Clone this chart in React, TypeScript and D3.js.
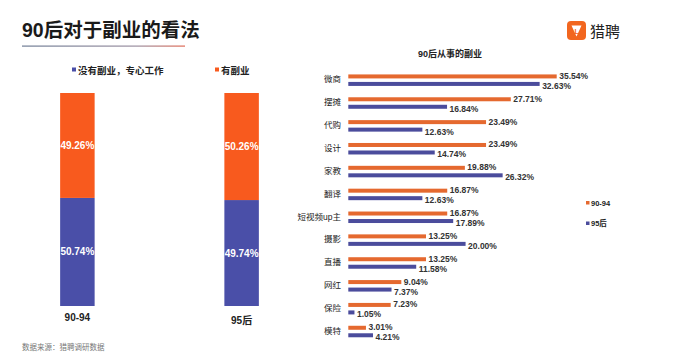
import React from "react";
import * as d3 from "d3";

const stackCats = ["90-94", "95后"];
const noSide = [50.74, 49.74];
const hasSide = [49.26, 50.26];
const stackLegend = ["没有副业，专心工作", "有副业"];

const jobs = ["微商", "摆摊", "代购", "设计", "家教", "翻译", "短视频up主", "摄影", "直播", "网红", "保险", "模特"];
const v9094 = [35.54, 27.71, 23.49, 23.49, 19.88, 16.87, 16.87, 13.25, 13.25, 9.04, 7.23, 3.01];
const v95 = [32.63, 16.84, 12.63, 14.74, 26.32, 12.63, 17.89, 20.0, 11.58, 7.37, 1.05, 4.21];
const seriesNames = ["90-94", "95后"];

const W = 682, H = 357;
const FONT = "'Liberation Sans', Arial, 'Noto Sans CJK SC', sans-serif";
const ORANGE_L = "#F85A1E";
const BLUE_L = "#4A4FA8";
const ORANGE_R = "#E5692F";
const BLUE_R = "#4B4C9C";

export default function App() {
  // left stacked chart
  const xL = d3.scaleBand().domain(stackCats).range([47, 272]).paddingInner(0.79).paddingOuter(0.08);
  const yL = d3.scaleLinear().domain([0, 100]).range([306, 93]);

  // right bar chart
  const xR = d3.scaleLinear().domain([0, 35.54]).range([348.3, 556.7]);
  const yR = d3.scaleBand().domain(jobs).range([68.5, 342.7]);
  const barH = 4;

  return (
    <svg width={W} height={H} style={{ position: "absolute", left: 0, top: 0, background: "#fff" }} fontFamily={FONT}>
      <defs>
        <linearGradient id="ul" x1="0" x2="1" y1="0" y2="0">
          <stop offset="0" stopColor="#6f7d95" />
          <stop offset="0.7" stopColor="#9a8fa0" />
          <stop offset="1" stopColor="#e06a55" />
        </linearGradient>
      </defs>
      <rect width={W} height={H} fill="#fff" />
      {/* title */}
      <text x={22} y={37} fontSize={19.5} fontWeight={700} fill="#1a1a1a">90后对于副业的看法</text>
      <rect x={22} y={45.5} width={163} height={1.2} fill="url(#ul)" />

      {/* logo */}
      <rect x={567} y={21} width={19} height={19} rx={4} fill="#F2661F" />
      <path d="M571.5,25.5 L581.5,25.5 L576.5,36.5 Z" fill="#fff" />
      <text x={574.5} y={33.5} fontSize={7} fontWeight={700} fill="#F2661F">L</text>
      <text x={590} y={37} fontSize={15} fill="#222">猎聘</text>

      {/* left legend */}
      <rect x={72} y={67.5} width={4} height={4} fill={BLUE_L} />
      <text x={78} y={73.5} fontSize={9.5} fontWeight={700} fill="#222">{stackLegend[0]}</text>
      <rect x={215} y={67.5} width={4} height={4} fill={ORANGE_L} />
      <text x={221} y={73.5} fontSize={9.5} fontWeight={700} fill="#222">{stackLegend[1]}</text>

      {/* stacked bars */}
      {stackCats.map((c, i) => {
        const x = xL(c)!;
        const w = xL.bandwidth();
        const yb = yL(noSide[i]);
        const yt = yL(noSide[i] + hasSide[i]);
        return (
          <g key={c}>
            <rect x={x} y={yb} width={w} height={yL(0) - yb} fill={BLUE_L} />
            <rect x={x} y={yt} width={w} height={yb - yt} fill={ORANGE_L} />
            <text x={x + w / 2} y={(yt + yb) / 2 + 3.5} textAnchor="middle" fontSize={10} fontWeight={700} fill="#fff">
              {hasSide[i].toFixed(2)}%
            </text>
            <text x={x + w / 2} y={(yb + yL(0)) / 2 + 3.5} textAnchor="middle" fontSize={10} fontWeight={700} fill="#fff">
              {noSide[i].toFixed(2)}%
            </text>
            <text x={x + w / 2} y={i === 0 ? 321 : 324} textAnchor="middle" fontSize={10} fontWeight={700} fill="#222">{c}</text>
          </g>
        );
      })}

      {/* right chart */}
      <text x={450} y={57} textAnchor="middle" fontSize={9} fontWeight={700} fill="#222">90后从事的副业</text>
      {jobs.map((j, i) => {
        const y0 = yR(j)!;
        const yc = y0 + yR.bandwidth() / 2;
        const yo = yc - 5.5;
        const yb = yc + 2;
        return (
          <g key={j}>
            <text x={341} y={yc + 2.5} textAnchor="end" fontSize={8.5} fill="#222">{j}</text>
            <rect x={xR(0)} y={yo} width={xR(v9094[i]) - xR(0)} height={barH} fill={ORANGE_R} />
            <rect x={xR(0)} y={yb} width={xR(v95[i]) - xR(0)} height={barH} fill={BLUE_R} />
            <text x={xR(v9094[i]) + 2.5} y={yo + 4.5} fontSize={8.5} fontWeight={700} fill="#333">{v9094[i].toFixed(2)}%</text>
            <text x={xR(v95[i]) + 2.5} y={yb + 7} fontSize={8.5} fontWeight={700} fill="#333">{v95[i].toFixed(2)}%</text>
          </g>
        );
      })}

      {/* right legend */}
      <rect x={586} y={201} width={3.5} height={3.5} fill={ORANGE_R} />
      <text x={591} y={205.5} fontSize={7.5} fontWeight={700} fill="#222">{seriesNames[0]}</text>
      <rect x={586} y={221.5} width={3.5} height={3.5} fill={BLUE_R} />
      <text x={591} y={226} fontSize={7.5} fontWeight={700} fill="#222">{seriesNames[1]}</text>

      {/* source */}
      <text x={22} y={350} fontSize={7.5} fill="#777">数据来源：猎聘调研数据</text>
    </svg>
  );
}
